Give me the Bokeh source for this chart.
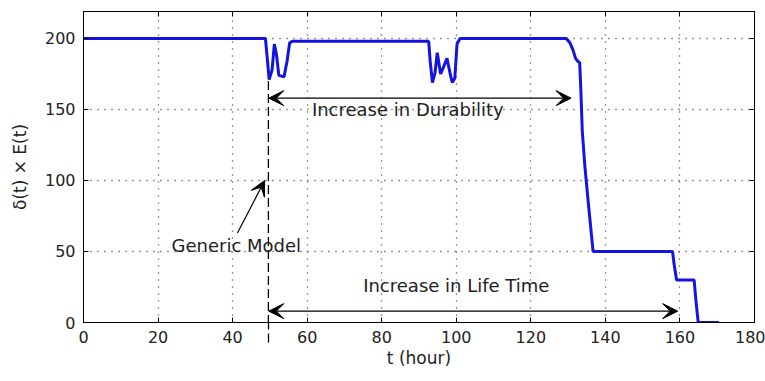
from bokeh.plotting import figure
from bokeh.models import (ColumnDataSource, Range1d, LinearAxis, Arrow, VeeHead,
                          Label, FixedTicker, CustomJSTickFormatter)
from bokeh.embed import file_html
from bokeh.resources import INLINE

# ---- data ----
t_hours = [0, 48.8, 49.3, 49.8, 50.6, 51.2, 51.8, 52.4, 53.8, 54.6, 55.3, 56.0,
           92.6, 93.0, 93.6, 94.3, 94.9, 95.8, 96.6, 97.5, 98.3, 98.9, 99.6, 100.2, 101.0,
           129.5, 130.5, 131.3, 132.0, 132.6, 133.1, 133.4, 133.8, 134.5, 135.5, 136.7,
           158.0, 158.5, 159.1, 163.8, 164.3, 164.9, 170.5]
delta_E = [200, 200, 186, 171, 178, 196, 188, 174, 173, 184, 197, 198,
           198, 184, 169, 176, 190, 175, 180, 186, 176, 169, 172, 196, 200,
           200, 197, 192, 186, 184, 183, 165, 135, 110, 82, 50,
           50, 40, 30, 30, 15, 0, 0]

x_ticks = [0, 20, 40, 60, 80, 100, 120, 140, 160, 180]
y_ticks = [0, 50, 100, 150, 200]

generic_t = 49.6
generic_top = 170
durability_span = [49.7, 130.8]
durability_y = 158
life_span = [49.7, 159.4]
life_y = 8
generic_arrow = [(41.3, 63), (48.6, 100)]

FONT = "DejaVu Sans"
TXT = "#222222"

p = figure(width=765, height=381, output_backend="svg", toolbar_location=None,
           x_range=Range1d(0, 180), y_range=Range1d(0, 219),
           min_border_left=83, min_border_right=11, min_border_top=11,
           min_border_bottom=59)

src = ColumnDataSource(dict(t=t_hours, y=delta_E))
p.line("t", "y", source=src, line_color="#1414e0", line_width=3)

# axes styling
for ax in (p.xaxis[0], p.yaxis[0]):
    ax.major_tick_in = 5
    ax.major_tick_out = 0
    ax.minor_tick_in = 0
    ax.minor_tick_out = 0
    ax.axis_line_color = "black"
    ax.major_tick_line_color = "black"
    ax.major_label_text_font = FONT
    ax.major_label_text_font_size = "16px"
    ax.major_label_text_color = TXT
    ax.axis_label_text_font = FONT
    ax.axis_label_text_font_size = "17px"
    ax.axis_label_text_font_style = "normal"
    ax.axis_label_text_color = TXT
    ax.major_label_standoff = 8

# bottom axis: the "generic model" dashed marker continues below the axis as a minor tick
DASH_OUT = 20
p.xaxis[0].ticker = FixedTicker(ticks=x_ticks, minor_ticks=[generic_t])
p.xaxis[0].minor_tick_out = DASH_OUT
p.xaxis[0].minor_tick_in = 0
p.xaxis[0].minor_tick_line_color = "black"
p.xaxis[0].minor_tick_line_width = 1.3
p.xaxis[0].minor_tick_line_dash = "9 4"
p.xaxis[0].major_label_standoff = 8 - DASH_OUT
p.yaxis[0].ticker = FixedTicker(ticks=y_ticks)
p.xaxis[0].axis_label = "t (hour)"
p.yaxis[0].axis_label = "δ(t) × E(t)"
p.xaxis[0].axis_label_standoff = 2
p.yaxis[0].axis_label_standoff = 12

for loc, tk in (("above", x_ticks), ("right", y_ticks)):
    ax = LinearAxis(ticker=FixedTicker(ticks=tk),
                    formatter=CustomJSTickFormatter(code="return ''"))
    ax.major_tick_in = 5
    ax.major_tick_out = 0
    ax.minor_tick_in = 0
    ax.minor_tick_out = 0
    ax.major_label_standoff = 0
    ax.axis_line_color = "black"
    ax.major_tick_line_color = "black"
    p.add_layout(ax, loc)

p.xgrid.ticker = FixedTicker(ticks=x_ticks)
p.ygrid.ticker = FixedTicker(ticks=y_ticks)
for g in (p.xgrid[0], p.ygrid[0]):
    g.grid_line_color = "#333333"
    g.grid_line_dash = "1 6"
    g.grid_line_width = 1.3

p.outline_line_color = "black"
p.outline_line_width = 1
p.background_fill_color = "white"
p.border_fill_color = "white"

# dashed "generic model" line inside the frame
p.add_layout(Arrow(end=None, x_start=generic_t, y_start=generic_top,
                   x_end=generic_t, y_end=0,
                   line_color="black", line_width=1.3, line_dash="9 4"))

def head():
    return VeeHead(size=15, fill_color="black", line_color="black", line_width=1)

p.add_layout(Arrow(start=head(), end=head(), x_start=durability_span[0], y_start=durability_y,
                   x_end=durability_span[1], y_end=durability_y,
                   line_color="black", line_width=1.2))
p.add_layout(Arrow(start=head(), end=head(), x_start=life_span[0], y_start=life_y,
                   x_end=life_span[1], y_end=life_y,
                   line_color="black", line_width=1.2))
p.add_layout(Arrow(end=head(), x_start=generic_arrow[0][0], y_start=generic_arrow[0][1],
                   x_end=generic_arrow[1][0], y_end=generic_arrow[1][1],
                   line_color="black", line_width=1.2))

for txt, x, y in (("Increase in Durability", 87.0, 150.0),
                  ("Generic Model", 41.0, 54.0),
                  ("Increase in Life Time", 100.0, 26.0)):
    p.add_layout(Label(x=x, y=y, text=txt, text_align="center", text_baseline="middle",
                       text_font=FONT, text_font_size="18px", text_color=TXT))

open("out.html", "w").write(file_html(p, INLINE))
